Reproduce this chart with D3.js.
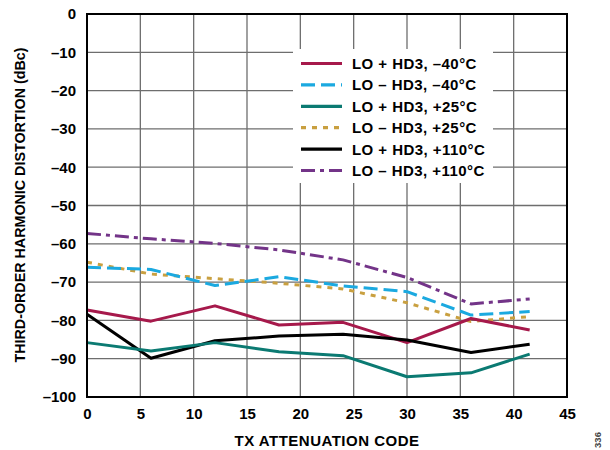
<!DOCTYPE html>
<html>
<head>
<meta charset="utf-8">
<script src="https://cdn.jsdelivr.net/npm/d3@7"></script>
<style>
  html, body { margin: 0; padding: 0; background: #fff; }
  svg { display: block; }
  text { font-family: "Liberation Sans", Arial, Helvetica, sans-serif; font-weight: bold; }
</style>
</head>
<body>
<svg id="chart" width="610" height="450"></svg>
<script>
// ---- data ----
const codes = [0, 6, 12, 18, 24, 30, 36, 41.5];
const loPlusM40  = [-77.3, -80.2, -76.2, -81.2, -80.5, -85.8, -79.5, -82.5];
const loMinusM40 = [-66.1, -66.7, -70.9, -68.6, -71.0, -72.5, -78.6, -77.7];
const loPlus25   = [-85.8, -88.0, -85.8, -88.2, -89.2, -94.7, -93.7, -88.8];
const loMinus25  = [-64.8, -67.9, -69.1, -70.3, -71.8, -75.4, -80.3, -79.0];
const loPlus110  = [-78.4, -89.9, -85.3, -84.1, -83.6, -85.1, -88.4, -86.2];
const loMinus110 = [-57.3, -58.7, -59.9, -61.6, -64.2, -68.8, -75.7, -74.4];

const seriesNames = ["LO + HD3, \u201340\u00B0C", "LO \u2013 HD3, \u201340\u00B0C", "LO + HD3, +25\u00B0C",
                     "LO \u2013 HD3, +25\u00B0C", "LO + HD3, +110\u00B0C", "LO \u2013 HD3, +110\u00B0C"];
const seriesValues = [loPlusM40, loMinusM40, loPlus25, loMinus25, loPlus110, loMinus110];
const seriesColors = ["#a6194b", "#1ba9e0", "#0b7a72", "#c9a040", "#000000", "#733488"];
const seriesDash = [null, "14,6", null, "5,6", null, "14,5,4,5"];

const xTicks = [0, 5, 10, 15, 20, 25, 30, 35, 40, 45];
const yTicks = [0, -10, -20, -30, -40, -50, -60, -70, -80, -90, -100];
const xTitle = "TX ATTENUATION CODE";
const yTitle = "THIRD-ORDER HARMONIC DISTORTION (dBc)";
const figId = "336";

// ---- layout ----
const L = 87, R = 567, T = 14, B = 397;
const svg = d3.select("#chart");
const x = d3.scaleLinear().domain([0, 45]).range([L, R]);
const y = d3.scaleLinear().domain([-100, 0]).range([B, T]);

// grid
const grid = svg.append("g");
grid.selectAll("line.v").data(xTicks.slice(1, -1)).join("line")
  .attr("x1", d => x(d)).attr("x2", d => x(d)).attr("y1", T).attr("y2", B)
  .attr("stroke", "#6e6e6e").attr("stroke-width", 1.3);
grid.selectAll("line.h").data(yTicks.slice(1, -1)).join("line")
  .attr("x1", L).attr("x2", R).attr("y1", d => y(d)).attr("y2", d => y(d))
  .attr("stroke", "#6e6e6e").attr("stroke-width", 1.3);

// axes via d3 (labels only)
const fmt = d => d < 0 ? "\u2013" + Math.abs(d) : String(d);
const xAxis = svg.append("g").attr("transform", `translate(0,${B})`)
  .call(d3.axisBottom(x).tickValues(xTicks).tickSize(0).tickPadding(11).tickFormat(fmt));
const yAxis = svg.append("g").attr("transform", `translate(${L},0)`)
  .call(d3.axisLeft(y).tickValues(yTicks).tickSize(0).tickPadding(11).tickFormat(fmt));
[xAxis, yAxis].forEach(a => {
  a.select(".domain").remove();
  a.selectAll("text").attr("font-size", 15).attr("fill", "#000")
    .attr("font-family", '"Liberation Sans", Arial, sans-serif').attr("font-weight", "bold");
});

// legend background
const legendG = svg.append("g");
legendG.append("rect").attr("x", 293).attr("y", 49).attr("width", 200).attr("height", 134).attr("fill", "#fff");

// lines
const line = d3.line().x((d, i) => x(codes[i])).y(d => y(d));
const order = [3, 1, 5, 0, 4, 2];
order.forEach(k => {
  svg.append("path").datum(seriesValues[k])
    .attr("d", line).attr("fill", "none")
    .attr("stroke", seriesColors[k]).attr("stroke-width", 3)
    .attr("stroke-dasharray", seriesDash[k]).attr("stroke-linejoin", "round");
});

// frame
svg.append("rect").attr("x", L).attr("y", T).attr("width", R - L).attr("height", B - T)
  .attr("fill", "none").attr("stroke", "#000").attr("stroke-width", 2);

// legend entries
seriesNames.forEach((name, i) => {
  const yy = 63.5 + i * 21.4;
  legendG.append("line").attr("x1", 301).attr("x2", 342).attr("y1", yy).attr("y2", yy)
    .attr("stroke", seriesColors[i]).attr("stroke-width", 3.2)
    .attr("stroke-dasharray", seriesDash[i]);
  legendG.append("text").attr("x", 352).attr("y", yy).attr("dy", "0.36em")
    .attr("font-size", 15).attr("letter-spacing", 0.45).attr("fill", "#000").text(name);
});

// titles
svg.append("text").attr("x", 327).attr("y", 446).attr("text-anchor", "middle")
  .attr("font-size", 15).attr("letter-spacing", 0.5).text(xTitle);
svg.append("text").attr("transform", "translate(25,205) rotate(-90)").attr("text-anchor", "middle")
  .attr("font-size", 14.3).text(yTitle);
svg.append("text").attr("transform", "translate(601,440) rotate(-90)").attr("text-anchor", "middle")
  .attr("font-size", 9.5).attr("font-weight", "normal").attr("fill", "#444").text(figId);
</script>
</body>
</html>
